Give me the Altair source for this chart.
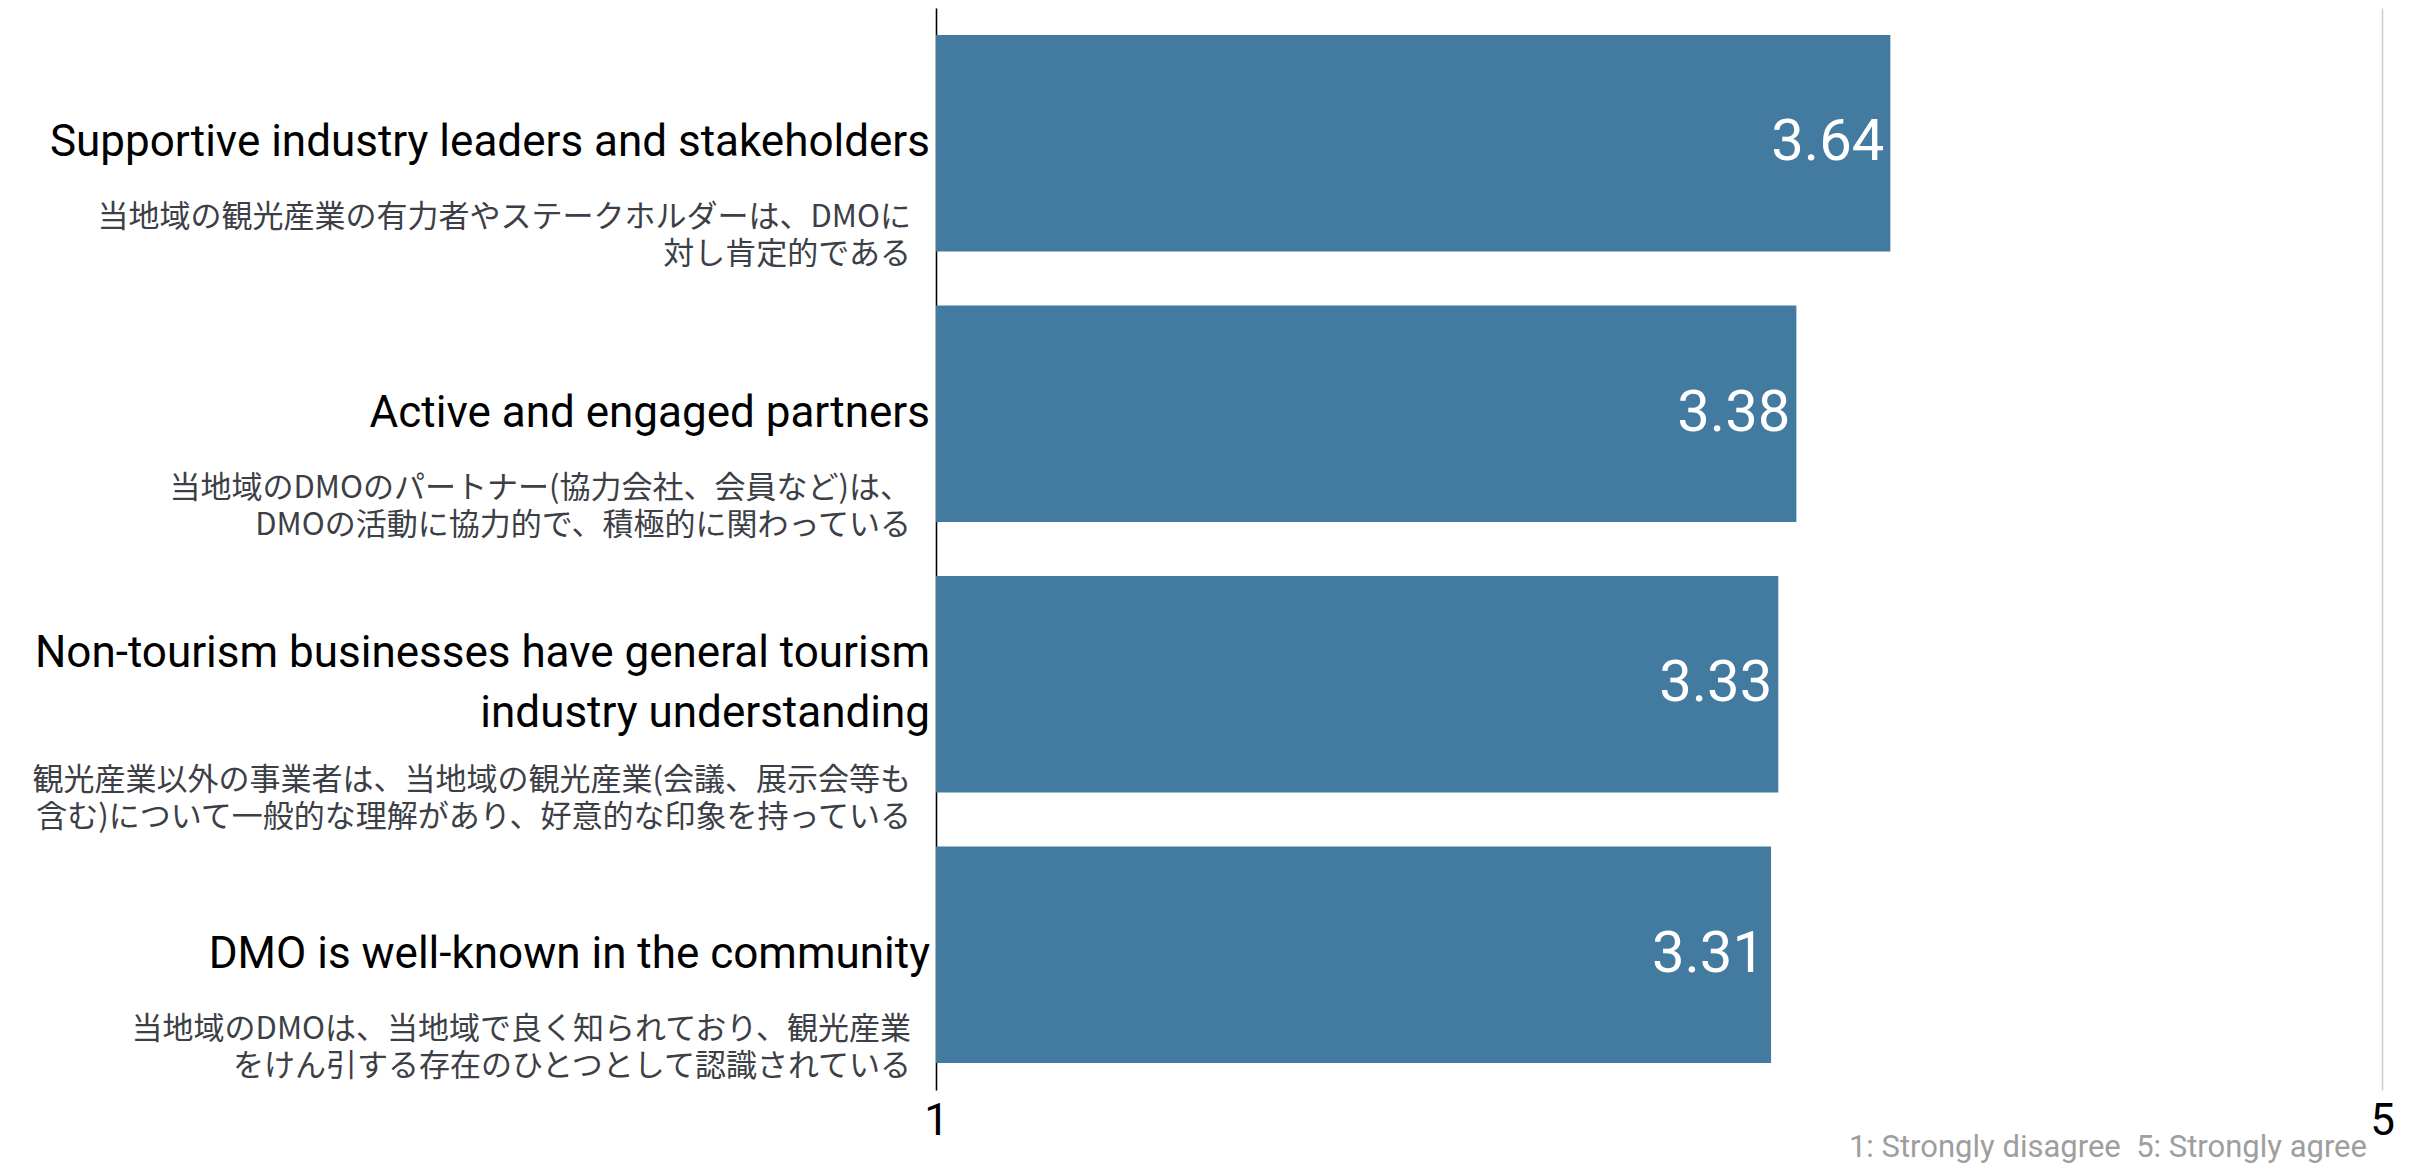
import altair as alt
import pandas as pd

labels_en = [
    "Supportive industry leaders and stakeholders",
    "Active and engaged partners",
    "Non-tourism businesses have general tourism\nindustry understanding",
    "DMO is well-known in the community",
]
labels_ja = [
    "当地域の観光産業の有力者やステークホルダーは、DMOに\n対し肯定的である",
    "当地域のDMOのパートナー(協力会社、会員など)は、\nDMOの活動に協力的で、積極的に関わっている",
    "観光産業以外の事業者は、当地域の観光産業(会議、展示会等も\n含む)について一般的な理解があり、好意的な印象を持っている",
    "当地域のDMOは、当地域で良く知られており、観光産業\nをけん引する存在のひとつとして認識されている",
]
scores = [3.64, 3.38, 3.33, 3.31]
x_ticks = [1, 5]
note = "1: Strongly disagree\u00a0 5: Strongly agree"

df = pd.DataFrame({"en": labels_en, "ja": labels_ja, "score": scores})

W, H = 1446, 1082
BAR = "#437aa0"

y_enc = alt.Y(
    "en:N",
    sort=labels_en,
    scale=alt.Scale(paddingInner=0.2, paddingOuter=0.1),
    axis=alt.Axis(labels=False, ticks=False, title=None, domain=True,
                  domainColor="black", domainWidth=1.5),
)
y_plain = alt.Y("en:N", sort=labels_en)
x_scale = alt.Scale(domain=[1, 5], zero=False, nice=False)

base = alt.Chart(df).transform_calculate(
    n="length(split(datum.en, '\\n'))"
)

bars = base.mark_bar(color=BAR).encode(
    x=alt.X("score:Q", scale=x_scale,
            axis=alt.Axis(values=x_ticks, title=None, domain=False, ticks=False,
                          grid=True, gridColor="#cccccc", gridWidth=1.5,
                          labelFontSize=44, labelColor="black", labelFont="Roboto",
                          labelFlush=False, labelPadding=9, format="d")),
    x2=alt.datum(1),
    y=y_enc,
)

values_txt = base.mark_text(align="right", baseline="middle", dx=-6, fontSize=58,
                            font="Roboto", color="white").encode(
    x=alt.X("score:Q", scale=x_scale),
    y=y_plain,
    text=alt.Text("score:Q", format=".2f"),
)

en_common = dict(align="right", baseline="middle", dx=-6, fontSize=44,
                 font="Roboto", color="black", lineBreak="\n", lineHeight=60)

en_single = base.transform_filter("datum.n == 1").mark_text(dy=0, **en_common).encode(
    x=alt.value(0), y=y_plain, text="en:N",
)
en_double = base.transform_filter("datum.n == 2").mark_text(dy=-30, **en_common).encode(
    x=alt.value(0), y=y_plain, text="en:N",
)

ja_common = dict(align="right", baseline="middle", dx=-25, fontSize=31,
                 font="Noto Sans CJK JP", color="#3c4046", lineBreak="\n",
                 lineHeight=37)

ja_single = base.transform_filter("datum.n == 1").mark_text(dy=75, **ja_common).encode(
    x=alt.value(0), y=y_plain, text="ja:N",
)
ja_double = base.transform_filter("datum.n == 2").mark_text(dy=97, **ja_common).encode(
    x=alt.value(0), y=y_plain, text="ja:N",
)

chart = alt.layer(bars, values_txt, en_single, en_double, ja_single, ja_double).properties(
    width=W,
    height=H,
    autosize=alt.AutoSizeParams(type="none"),
    padding={"left": 928, "top": 0, "right": 20, "bottom": 75},
    title=alt.TitleParams(note, orient="bottom", anchor="end", frame="group",
                          fontSize=31, font="Roboto", fontWeight="normal",
                          color="#9e9e9e", offset=0, dx=-15, dy=-10),
).configure_view(strokeWidth=0)

chart.save("out.html", embed_options={"renderer": "svg", "actions": False})
